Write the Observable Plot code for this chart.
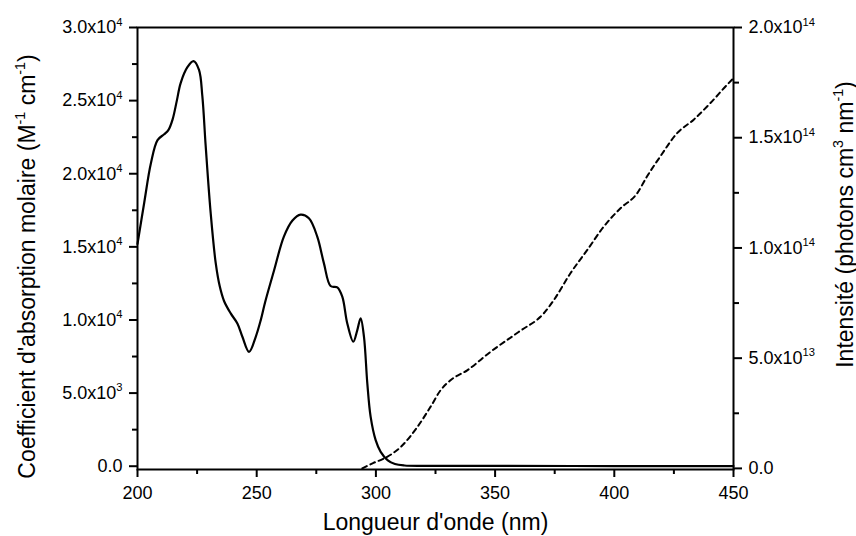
<!DOCTYPE html>
<html><head><meta charset="utf-8">
<script src="https://cdn.jsdelivr.net/npm/d3@7"></script>
<script src="https://cdn.jsdelivr.net/npm/@observablehq/plot@0.6"></script>
<style>body{margin:0;background:#fff}</style>
</head><body><div id="chart"></div>
<script>
// Absorption spectrum (solid line)
const absWavelength = [200,202.8,205.6,208.4,211.2,213,214.7,216.5,218.1,221,223.5,225.8,227.2,228.6,230.7,232.8,234.5,236.3,239.1,241.9,244,246.8,249.6,251.7,253.5,257.3,261.4,265,268.4,271.9,275.4,278.2,281,283.8,285.9,288,290.5,292.2,293.6,295,296.4,297.8,299.9,302,305,308,312,320,350,400,450];
const absCoefficient = [15200,18000,20700,22300,22700,23000,23700,25000,26200,27300,27700,27100,25300,21900,17300,13900,12300,11300,10450,9760,8850,7820,8850,9990,11200,13400,15700,16800,17200,16950,15700,13870,12320,12230,11590,9760,8510,9310,10110,8850,5660,3370,1780,980,400,150,50,20,20,10,10];
// Lamp intensity (dashed line), photons cm^3 nm^-1
const lampWavelength = [294.3,299,303.4,310.4,317.4,322.9,327.1,331.3,338.3,348.1,360,370.4,374.6,381.6,388.6,395.6,402.6,409.6,413.7,419.3,426.3,433.3,440.3,447.3,450];
const lampIntensity = [0,0.25e13,0.45e13,0.97e13,1.88e13,2.79e13,3.54e13,4.0e13,4.45e13,5.29e13,6.2e13,7.03e13,7.63e13,8.85e13,9.9e13,10.97e13,11.8e13,12.48e13,13.24e13,14.15e13,15.2e13,15.82e13,16.57e13,17.4e13,17.7e13];

const xTicks = [200,250,300,350,400,450];
const xMinorTicks = [225,275,325,375,425];
const leftTicks = [0,5000,10000,15000,20000,25000,30000];
const leftTickLabels = ["0.0","5.0x10³","1.0x10⁴","1.5x10⁴","2.0x10⁴","2.5x10⁴","3.0x10⁴"];
const leftMinorTicks = [2500,7500,12500,17500,22500,27500];
const rightTicks = [0,5e13,1e14,1.5e14,2e14];
const rightTickLabels = ["0.0","5.0x10¹³","1.0x10¹⁴","1.5x10¹⁴","2.0x10¹⁴"];
const rightMinorTicks = [2.5e13,7.5e13,1.25e14,1.75e14];
const xLabel = "Longueur d'onde (nm)";
const leftLabel = "Coefficient d'absorption molaire (M⁻¹ cm⁻¹)";
const rightLabel = "Intensité (photons cm³ nm⁻¹)";

const leftDomain = [-225, 30000];
const rightDomain = [-0.5e12, 2e14];
const toLeft = v => leftDomain[0] + (v - rightDomain[0]) * (leftDomain[1] - leftDomain[0]) / (rightDomain[1] - rightDomain[0]);
const rightTicksL = rightTicks.map(toLeft);
const rightMinorL = rightMinorTicks.map(toLeft);

const absData = absWavelength.map((w, i) => ({w, v: absCoefficient[i]}));
const lampData = lampWavelength.map((w, i) => ({w, v: toLeft(lampIntensity[i])}));

const chart = Plot.plot({
  width: 856, height: 536,
  marginTop: 27, marginBottom: 67, marginLeft: 137, marginRight: 123,
  x: {domain: [200, 450]},
  y: {domain: leftDomain},
  style: {fontFamily: "'Liberation Sans', Arial, sans-serif", fontSize: "18px", color: "black", background: "white", overflow: "visible"},
  marks: [
    Plot.line(lampData, {x: "w", y: "v", stroke: "black", strokeWidth: 2, strokeDasharray: "5,4", curve: "monotone-x"}),
    Plot.line(absData, {x: "w", y: "v", stroke: "black", strokeWidth: 2.2, curve: "catmull-rom"}),
    Plot.frame({stroke: "black", strokeWidth: 2}),
    Plot.axisX({ticks: xTicks, tickSize: 8, tickPadding: 9, strokeWidth: 2, label: null, tickFormat: d => String(d)}),
    Plot.axisX({ticks: xMinorTicks, tickSize: 5, strokeWidth: 2, label: null, tickFormat: () => ""}),
    Plot.axisY({anchor: "left", ticks: leftTicks, tickSize: 8, tickPadding: 7, strokeWidth: 2, label: null, tickFormat: d => leftTickLabels[leftTicks.indexOf(d)]}),
    Plot.axisY({anchor: "left", ticks: leftMinorTicks, tickSize: 5, strokeWidth: 2, label: null, tickFormat: () => ""}),
    Plot.axisY({anchor: "right", ticks: rightTicksL, tickSize: 8, tickPadding: 7, strokeWidth: 2, label: null, tickFormat: d => rightTickLabels[rightTicksL.indexOf(d)]}),
    Plot.axisY({anchor: "right", ticks: rightMinorL, tickSize: 5, strokeWidth: 2, label: null, tickFormat: () => ""}),
    Plot.text([xLabel], {frameAnchor: "bottom", text: d => d, dy: 53, fontSize: 23, lineAnchor: "middle", textAnchor: "middle", fill: "black"}),
    Plot.text([leftLabel], {frameAnchor: "left", text: d => d, rotate: -90, dx: -110, dy: 18, fontSize: 23, lineAnchor: "middle", textAnchor: "middle", fill: "black"}),
    Plot.text([rightLabel], {frameAnchor: "right", text: d => d, rotate: -90, dx: 112, dy: -24, fontSize: 23, lineAnchor: "middle", textAnchor: "middle", fill: "black"})
  ]
});

// Render Unicode superscript characters as raised, smaller tspans
const supMap = {"⁰":"0","¹":"1","²":"2","³":"3","⁴":"4","⁵":"5","⁶":"6","⁷":"7","⁸":"8","⁹":"9","⁻":"-"};
document.getElementById("chart").appendChild(chart);
d3.select(chart).selectAll("text").each(function() {
  const el = this;
  const s = el.textContent;
  if (![...s].some(c => c in supMap)) return;
  const fs = parseFloat(getComputedStyle(el).fontSize) || 18;
  const shift = fs * 0.42;
  const runs = [];
  for (const c of s) {
    const sup = c in supMap;
    const ch = sup ? supMap[c] : c;
    if (runs.length && runs[runs.length - 1].sup === sup) runs[runs.length - 1].t += ch;
    else runs.push({sup, t: ch});
  }
  el.textContent = "";
  let raised = false;
  for (const r of runs) {
    const ts = d3.select(el).append("tspan").text(r.t);
    if (r.sup) {
      ts.attr("font-size", (fs * 0.62).toFixed(1) + "px").attr("dy", -shift);
      raised = true;
    } else if (raised) {
      ts.attr("dy", shift);
      raised = false;
    }
  }
});
</script>
</body></html>
